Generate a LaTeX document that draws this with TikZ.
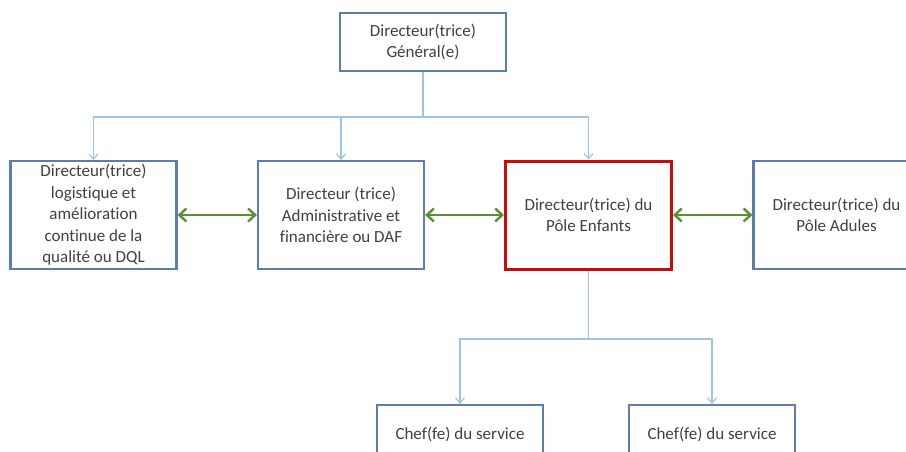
\documentclass[tikz,border=0pt]{standalone}
\usepackage{fontspec}
\setmainfont[Ligatures=CommonOff]{Carlito}
\usetikzlibrary{arrows.meta}

\definecolor{cadre}{HTML}{5A7FAE}
\definecolor{lienbleu}{HTML}{9DC3E6}
\definecolor{vert}{HTML}{5A8F35}
\definecolor{rouge}{HTML}{CC0A0A}
\definecolor{texte}{HTML}{404040}

\begin{document}
\begin{tikzpicture}[x=1pt,y=-1pt,
    box/.style={draw=cadre, line width=2.2pt, fill=white, text=texte, align=center,
      minimum width=166pt, minimum height=108pt, inner sep=0pt,
      font=\fontsize{17}{21.5}\selectfont},
    petit/.style={box, minimum height=58pt},
    pole/.style={box, draw=rouge, line width=3pt},
    lien/.style={draw=lienbleu, line width=1.2pt},
    fleche/.style={lien, -{Straight Barb[length=5pt,width=9pt]}},
    duo/.style={draw=vert, line width=2.4pt,
      {Straight Barb[length=7pt,width=13pt]}-{Straight Barb[length=7pt,width=13pt]}}]
      \def\ligne{215}

      \useasboundingbox (0,0) rectangle (906,452);
      \clip (0,0) rectangle (906,452);

      \node[petit] (dg) at (423,42) {Directeur(trice)\\Général(e)};

      \node[box] (dql) at (93.5,\ligne) {Directeur(trice)\\logistique et\\amélioration\\continue de la\\qualité ou DQL};
      \node[box] (daf) at (341,\ligne) {Directeur (trice)\\Administrative et\\financière ou DAF};
      \node[pole] (enf) at (588.5,\ligne) {Directeur(trice) du\\Pôle Enfants};
      \node[box] (adu) at (836.5,\ligne) {Directeur(trice) du\\Pôle Adules};

      \node[petit] (chefa) at (460,434) {Chef(fe) du service};
      \node[petit] (chefb) at (712,434) {Chef(fe) du service};

      \draw[lien] (dg.south) -- (dg.south |- 0,117) coordinate (bus);
      \foreach \n in {dql,daf,enf}
        \draw[fleche] (bus) -| (\n.north);

      \draw[lien] (enf.south) -- (enf.south |- 0,339) coordinate (bus2);
      \foreach \n in {chefa,chefb}
        \draw[fleche] (bus2) -| (\n.north);

      \draw[duo] (dql) -- (daf);
      \draw[duo] (daf) -- (enf);
      \draw[duo] (enf) -- (adu);

    \end{tikzpicture}
\end{document}
